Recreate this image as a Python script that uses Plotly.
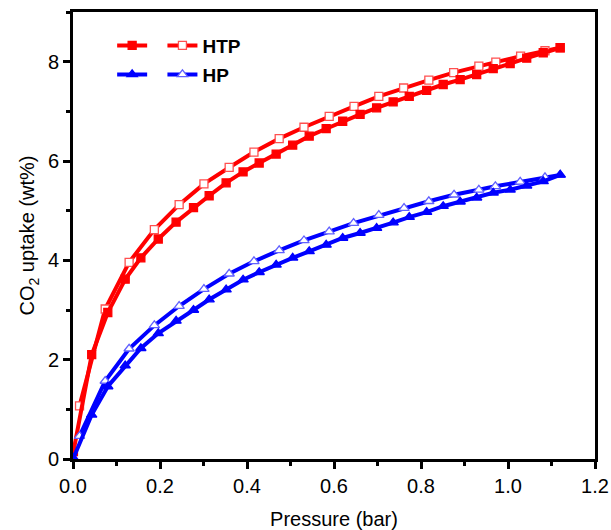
import plotly.graph_objects as go

# HTP adsorption (filled squares)
htp_ads_p = [0.001, 0.043, 0.080, 0.120, 0.156, 0.196, 0.237, 0.277, 0.313, 0.352, 0.391,
             0.428, 0.467, 0.505, 0.543, 0.582, 0.620, 0.660, 0.698, 0.736, 0.773, 0.813,
             0.851, 0.890, 0.928, 0.966, 1.005, 1.043, 1.081, 1.120]
htp_ads_u = [0.15, 2.10, 2.95, 3.62, 4.05, 4.43, 4.77, 5.06, 5.30, 5.56, 5.78,
             5.96, 6.14, 6.32, 6.50, 6.65, 6.80, 6.94, 7.07, 7.19, 7.30, 7.42,
             7.54, 7.64, 7.74, 7.86, 7.96, 8.07, 8.18, 8.28]
# HTP desorption (open squares)
htp_des_p = [1.120, 1.085, 1.029, 0.972, 0.933, 0.875, 0.818, 0.760, 0.703, 0.646, 0.589,
             0.531, 0.474, 0.416, 0.359, 0.301, 0.244, 0.187, 0.129, 0.074, 0.015]
htp_des_u = [8.28, 8.22, 8.11, 7.99, 7.91, 7.78, 7.63, 7.47, 7.30, 7.10, 6.90,
             6.68, 6.45, 6.18, 5.87, 5.54, 5.12, 4.62, 3.96, 3.02, 1.07]
# HP adsorption (filled triangles)
hp_ads_p = [0.001, 0.043, 0.080, 0.120, 0.156, 0.196, 0.237, 0.277, 0.313, 0.352, 0.391,
            0.428, 0.467, 0.505, 0.543, 0.582, 0.620, 0.660, 0.698, 0.736, 0.773, 0.813,
            0.851, 0.890, 0.928, 0.966, 1.005, 1.043, 1.081, 1.120]
hp_ads_u = [0.02, 0.89, 1.46, 1.88, 2.23, 2.53, 2.78, 3.00, 3.21, 3.41, 3.61,
            3.76, 3.91, 4.05, 4.18, 4.31, 4.45, 4.55, 4.65, 4.76, 4.87, 4.97,
            5.09, 5.18, 5.26, 5.36, 5.42, 5.50, 5.59, 5.72]
# HP desorption (open triangles)
hp_des_p = [1.120, 1.085, 1.028, 0.971, 0.933, 0.876, 0.818, 0.761, 0.703, 0.645, 0.589,
            0.531, 0.474, 0.416, 0.359, 0.301, 0.244, 0.187, 0.129, 0.074, 0.015]
hp_des_u = [5.72, 5.67, 5.58, 5.49, 5.42, 5.32, 5.19, 5.05, 4.91, 4.75, 4.58,
            4.40, 4.20, 3.98, 3.73, 3.42, 3.08, 2.69, 2.22, 1.57, 0.46]

x_ticks = [0.0, 0.2, 0.4, 0.6, 0.8, 1.0, 1.2]
y_ticks = [0, 2, 4, 6, 8]

RED = "#ff0000"
BLUE = "#0000ff"
FONT = "Liberation Sans, Arial, sans-serif"

fig = go.Figure()

def add(x, y, color, symbol, fill, edge, name, legend, size, rank):
    fig.add_trace(go.Scatter(
        x=x, y=y, mode="lines+markers", name=name,
        line=dict(color=color, width=4),
        marker=dict(symbol=symbol, size=size, color=fill,
                    line=dict(color=edge, width=1.3)),
        legend=legend, showlegend=True, legendrank=rank,
    ))

# desorption drawn first so the shared end point shows the filled marker
add(htp_des_p, htp_des_u, RED, "square", "white", "#ff5050", "<b>HTP</b>", "legend", 8, 2)
add(htp_ads_p, htp_ads_u, RED, "square", RED, RED, " ", "legend", 8, 1)
add(hp_des_p, hp_des_u, BLUE, "triangle-up", "white", "#6060ff", "<b>HP</b>", "legend2", 9, 2)
add(hp_ads_p, hp_ads_u, BLUE, "triangle-up", BLUE, BLUE, " ", "legend2", 9, 1)

axis_common = dict(
    showline=True, linecolor="black", linewidth=3, mirror=True,
    ticks="outside", ticklen=7, tickwidth=2.5, tickcolor="black",
    showgrid=False, zeroline=False, automargin=False,
    tickfont=dict(family=FONT, size=20, color="black"),
)

fig.update_xaxes(
    range=[0, 1.2], tickvals=x_ticks, ticktext=[f"{v:.1f}" for v in x_ticks],
    minor=dict(ticks="outside", ticklen=4, tickwidth=2.5, tickcolor="black", dtick=0.1),
    title=dict(text="Pressure (bar)", font=dict(family=FONT, size=20, color="black"), standoff=20),
    **axis_common,
)
fig.update_yaxes(
    range=[0, 9], tickvals=y_ticks, ticktext=[str(v) for v in y_ticks],
    minor=dict(ticks="outside", ticklen=4, tickwidth=2.5, tickcolor="black", dtick=1),
    title=dict(text="CO<sub>2</sub> uptake (wt%)", font=dict(family=FONT, size=20, color="black"), standoff=8),
    **axis_common,
)

leg_common = dict(
    orientation="h", bgcolor="rgba(0,0,0,0)", borderwidth=0,
    font=dict(family=FONT, size=19, color="black"),
    itemwidth=30, xanchor="left", yanchor="middle", traceorder="normal",
)
fig.update_layout(
    width=611, height=530,
    margin=dict(l=73, r=16, t=12, b=71),
    paper_bgcolor="white", plot_bgcolor="white",
    legend=dict(x=0.075, y=0.925, **leg_common),
    legend2=dict(x=0.075, y=0.86, **leg_common),
)

fig.write_html("out.html")
